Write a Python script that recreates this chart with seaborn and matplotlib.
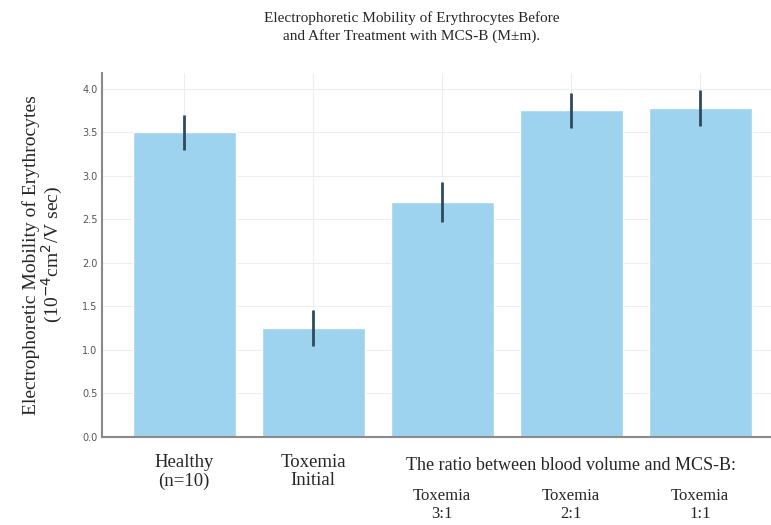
import numpy as np
import pandas as pd
import seaborn as sns
import matplotlib.pyplot as plt
import matplotlib.transforms as mtransforms

# Data (M +/- m)
groups = ['Healthy\n(n=10)', 'Toxemia\nInitial', 'Toxemia\n3:1', 'Toxemia\n2:1', 'Toxemia\n1:1']
mobility = [3.50, 1.25, 2.70, 3.75, 3.78]
sem = [0.20, 0.21, 0.23, 0.20, 0.21]
ratio_note = 'The ratio between blood volume and MCS-B:'

df = pd.DataFrame({'group': groups, 'mobility': mobility, 'sem': sem})

sns.set_style('whitegrid')
serif = ['Liberation Serif', 'DejaVu Serif']

fig = plt.figure(figsize=(7.71, 5.25), dpi=100)
ax = fig.add_axes([0.132, 0.168, 0.868, 0.693])

sns.barplot(data=df, x='group', y='mobility', color='#9dd3ef', saturation=1,
            width=0.8, errorbar=None, ax=ax)
ax.errorbar(np.arange(len(df)), df['mobility'], yerr=df['sem'], fmt='none',
            ecolor='#2f4a5c', elinewidth=2, capsize=0)

ax.set_xlim(-0.64, 4.55)
ax.set_ylim(0, 4.18)
ax.set_yticks(np.arange(0, 4.01, 0.5))
ax.set_yticklabels([f'{v:.1f}' for v in np.arange(0, 4.01, 0.5)])
ax.tick_params(axis='y', labelsize=7, labelcolor='#555555', direction='in',
               length=3, color='#888888', pad=3)
ax.tick_params(axis='x', direction='in', length=2, color='#888888')
ax.set_xticklabels([])
ax.set_xlabel('')

ax.grid(True, color='#eeeeee', linewidth=0.8)
for side in ['top', 'right']:
    ax.spines[side].set_visible(False)
for side in ['left', 'bottom']:
    ax.spines[side].set_color('#8a8a8a')
    ax.spines[side].set_linewidth(1.5)

# category labels below the axis
trans = mtransforms.blended_transform_factory(ax.transData, fig.transFigure)
for i, lab in enumerate(groups):
    if i < 2:
        ax.text(i, 1 - 454 / 525, lab, transform=trans, ha='center', va='top',
                fontsize=13.5, family=serif, linespacing=1.1)
    else:
        ax.text(i, 1 - 488 / 525, lab, transform=trans, ha='center', va='top',
                fontsize=12, family=serif, linespacing=1.2)
ax.text(3.0, 1 - 457 / 525, ratio_note, transform=trans, ha='center',
        va='top', fontsize=13, family=serif)

ax.set_ylabel('Electrophoretic Mobility of Erythrocytes\n'
              r'(10$^{-4}$cm$^2$/V sec)', fontsize=14, family=serif,
              linespacing=1.0, labelpad=12)
fig.text(0.534, 1 - 11 / 525,
         'Electrophoretic Mobility of Erythrocytes Before\n'
         'and After Treatment with MCS-B (M\u00b1m).',
         ha='center', va='top', fontsize=11, family=serif, linespacing=1.4)

fig.savefig('out.png', dpi=100)
